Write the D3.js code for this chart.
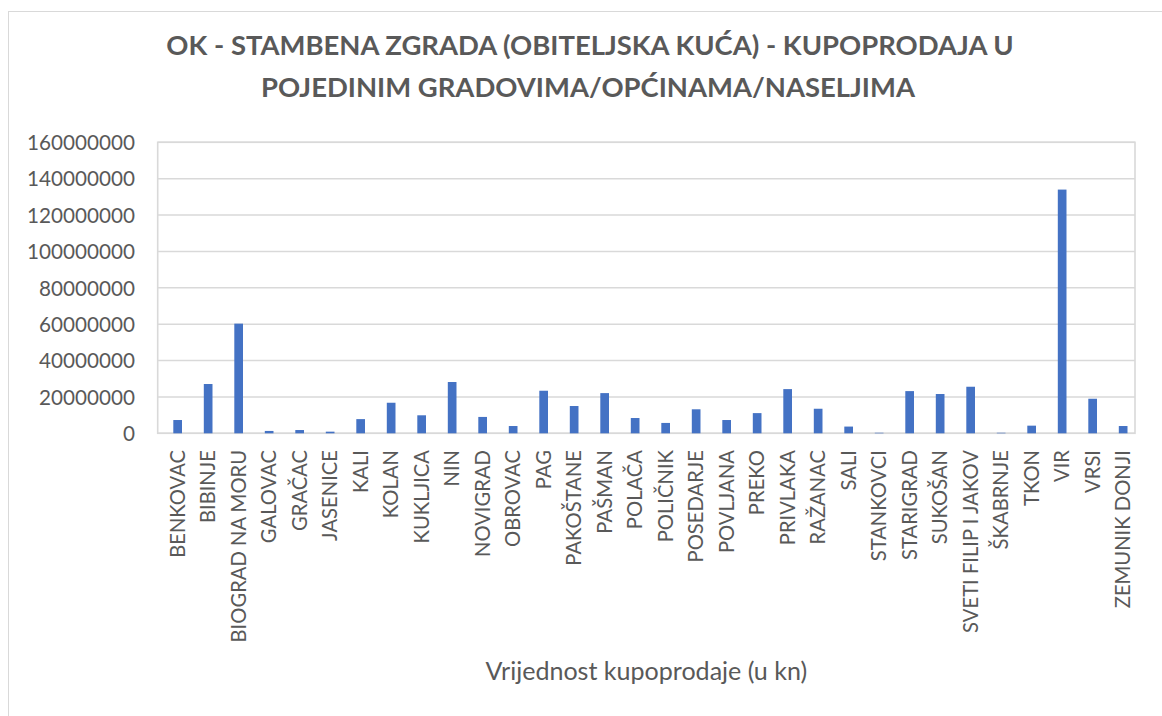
<!DOCTYPE html>
<html><head><meta charset="utf-8">
<script src="https://cdn.jsdelivr.net/npm/d3@7"></script>
<style>body{margin:0;background:#fff}svg{display:block}</style>
</head><body>
<script>
const categories = ["BENKOVAC","BIBINJE","BIOGRAD NA MORU","GALOVAC","GRAČAC","JASENICE","KALI","KOLAN","KUKLJICA","NIN","NOVIGRAD","OBROVAC","PAG","PAKOŠTANE","PAŠMAN","POLAČA","POLIČNIK","POSEDARJE","POVLJANA","PREKO","PRIVLAKA","RAŽANAC","SALI","STANKOVCI","STARIGRAD","SUKOŠAN","SVETI FILIP I JAKOV","ŠKABRNJE","TKON","VIR","VRSI","ZEMUNIK DONJI"];
const values = [7300000,27100000,60300000,1300000,1800000,900000,7800000,16800000,9900000,28200000,9000000,4000000,23400000,15000000,22100000,8400000,5700000,13200000,7300000,11100000,24300000,13500000,3700000,300000,23200000,21600000,25600000,300000,4200000,134000000,19000000,4000000];
const yTicks = [0,20000000,40000000,60000000,80000000,100000000,120000000,140000000,160000000];
const titleLines = ["OK - STAMBENA ZGRADA (OBITELJSKA KUĆA) - KUPOPRODAJA U","POJEDINIM GRADOVIMA/OPĆINAMA/NASELJIMA"];
const axisTitle = "Vrijednost kupoprodaje (u kn)";

const W=1162,H=716;
const font="Lato, 'Open Sans', sans-serif";
const txt="#595959", grid="#d9d9d9", bar="#4472C4";
const svg=d3.select("body").append("svg").attr("width",W).attr("height",H);
svg.append("rect").attr("width",W).attr("height",H).attr("fill","#fff");
svg.append("rect").attr("x",8.5).attr("y",11.5).attr("width",1200).attr("height",800)
  .attr("fill","none").attr("stroke",grid).attr("stroke-width",1);

function fit(sel,target){const w=sel.node().getComputedTextLength();const fs=parseFloat(sel.attr("font-size"));sel.attr("font-size",fs*target/w);}

const plotL=157.7, plotR=1135, plotT=142.3, plotB=433.3;
const x=d3.scaleBand().domain(categories).range([162.4,1138.4]).paddingInner(0.715).paddingOuter(0.3575);
const y=d3.scaleLinear().domain([0,160000000]).range([plotB,plotT]);

// gridlines
svg.append("g").selectAll("line").data(yTicks).join("line")
  .attr("x1",plotL).attr("x2",plotR).attr("y1",d=>y(d)).attr("y2",d=>y(d))
  .attr("stroke",grid).attr("stroke-width",1.6);
// frame
svg.append("rect").attr("x",plotL).attr("y",plotT).attr("width",plotR-plotL).attr("height",plotB-plotT)
  .attr("fill","none").attr("stroke",grid).attr("stroke-width",1.6);

// bars
svg.append("g").selectAll("rect").data(values).join("rect")
  .attr("x",(d,i)=>x(categories[i])).attr("width",x.bandwidth())
  .attr("y",d=>y(d)).attr("height",d=>plotB-y(d)).attr("fill",bar);

// y axis
const yAxis=d3.axisLeft(y).tickValues(yTicks).tickFormat(d=>String(d)).tickSize(0).tickPadding(0);
const ya=svg.append("g").attr("transform","translate(135,0)").call(yAxis);
ya.select(".domain").remove();
ya.selectAll("text").attr("font-family",font).attr("fill",txt).attr("font-size",20).attr("dy","0.35em");
{const t=ya.selectAll("text").filter(d=>d===160000000);const w=t.node().getComputedTextLength();const fs=20*108/w;ya.selectAll("text").attr("font-size",fs);}

// x axis
const xAxis=d3.axisBottom(x).tickSize(0).tickPadding(0);
const xa=svg.append("g").attr("transform","translate(0,450)").call(xAxis);
xa.select(".domain").remove();
xa.selectAll("text").attr("font-family",font).attr("fill",txt).attr("font-size",20)
  .attr("transform","rotate(-90)").attr("text-anchor","end").attr("x",0).attr("y",0).attr("dy","0.36em");
{const t=xa.selectAll("text").filter(d=>d==="SVETI FILIP I JAKOV");const w=t.node().getComputedTextLength();const fs=20*183/w;xa.selectAll("text").attr("font-size",fs);}

// title
const cx=590;
const t1=svg.append("text").attr("x",cx).attr("y",55).attr("text-anchor","middle").attr("font-family",font)
  .attr("font-weight","bold").attr("fill",txt).attr("font-size",24).text(titleLines[0]);
fit(t1,848);
svg.append("text").attr("x",588).attr("y",97).attr("text-anchor","middle").attr("font-family",font)
  .attr("font-weight","bold").attr("fill",txt).attr("font-size",t1.attr("font-size")).text(titleLines[1]);

// axis title
const at=svg.append("text").attr("x",(plotL+plotR)/2).attr("y",680).attr("text-anchor","middle")
  .attr("font-family",font).attr("fill",txt).attr("font-size",20).text(axisTitle);
fit(at,322);
</script>
</body></html>
